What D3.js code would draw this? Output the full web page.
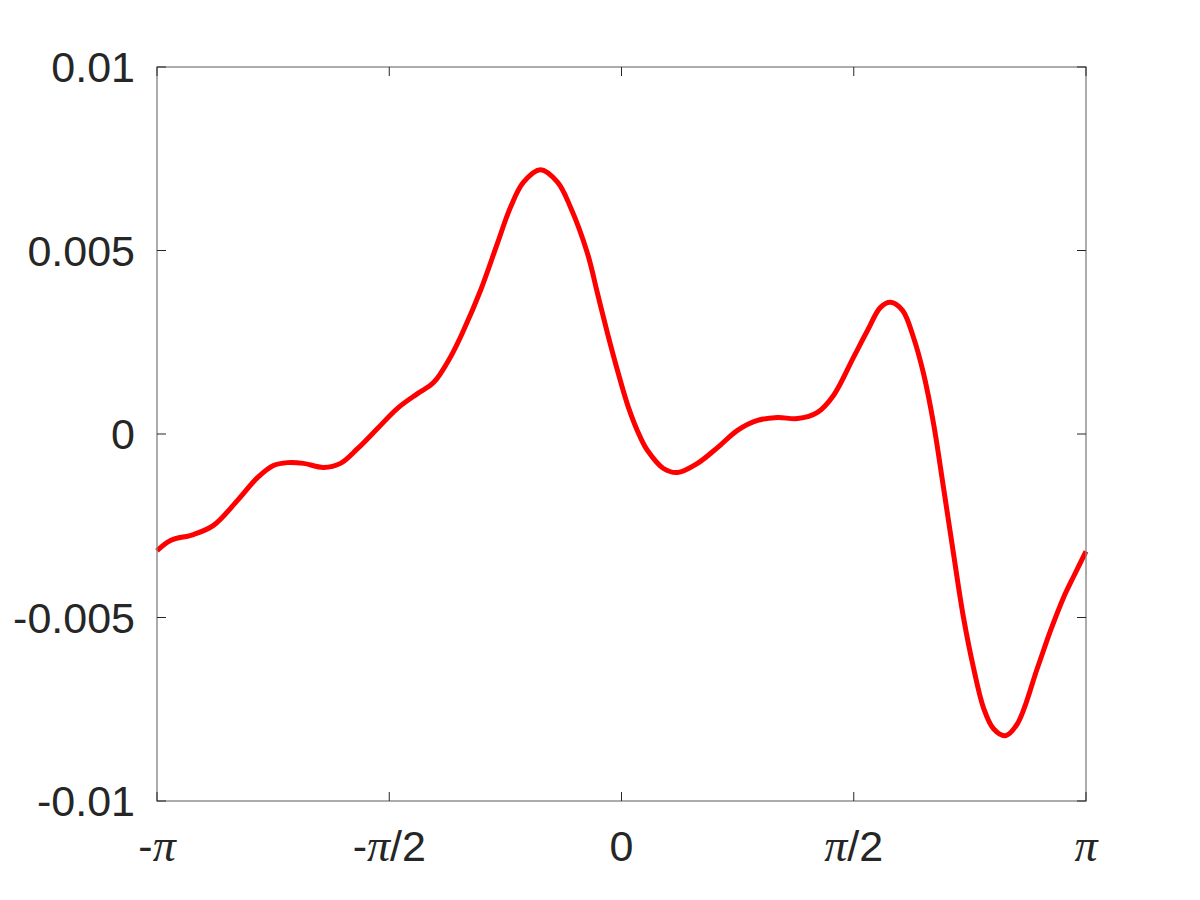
<!DOCTYPE html>
<html>
<head>
<meta charset="utf-8">
<script src="https://cdn.jsdelivr.net/npm/d3@7"></script>
<style>
  body { margin: 0; background: #fff; }
  text { font-family: "Liberation Sans", Arial, sans-serif; }
</style>
</head>
<body>
<svg id="chart"></svg>
<script>
// curve samples (x in radians)
const xs = [-Math.PI, -3.0503, -2.8947, -2.7595, -2.5971, -2.4619, -2.3537, -2.2590, -2.1508, -2.0155,
  -1.9005, -1.7855, -1.6503, -1.5150, -1.3797, -1.2715, -1.1565, -1.0686, -0.9536, -0.8387,
  -0.7507, -0.6628, -0.5478, -0.4328, -0.3449, -0.2300, -0.1623, -0.0947, -0.0271, 0.0473,
  0.1285, 0.1759, 0.2841, 0.3788, 0.5140, 0.6493, 0.7845, 0.9198, 1.0551, 1.1904, 1.3256,
  1.4338, 1.5691, 1.6638, 1.7517, 1.8194, 1.9005, 1.9749, 2.0425, 2.1102, 2.1778,
  2.2454, 2.3130, 2.3807, 2.4483, 2.5160, 2.5972, 2.6783, 2.8136, 2.9015, 2.9894,
  3.0570, Math.PI];
const ys = [-0.00318, -0.00290, -0.00274, -0.00249, -0.00181, -0.00119, -0.00086, -0.00078, -0.00080, -0.00091,
  -0.00080, -0.00040, 0.00015, 0.00070, 0.00110, 0.00140, 0.00210, 0.00282, 0.00391, 0.00520,
  0.00618, 0.00686, 0.00720, 0.00686, 0.00618, 0.00492, 0.00383, 0.00274, 0.00173, 0.00072,
  -0.00010, -0.00045, -0.00094, -0.00105, -0.00080, -0.00037, 0.00010, 0.00037, 0.00045, 0.00042, 0.00059,
  0.00105, 0.00209, 0.00282, 0.00345, 0.00359, 0.00337, 0.00263, 0.00165, 0.00029, -0.00146,
  -0.00326, -0.00500, -0.00637, -0.00746, -0.00803, -0.00822, -0.00789, -0.00637, -0.00536, -0.00446,
  -0.00389, -0.00320];

const xTicks = [-Math.PI, -Math.PI / 2, 0, Math.PI / 2, Math.PI];
const xTickLabels = ["-π", "-π/2", "0", "π/2", "π"];
const yTicks = [-0.01, -0.005, 0, 0.005, 0.01];
const yTickLabels = ["-0.01", "-0.005", "0", "0.005", "0.01"];

const W = 1200, H = 900;
const margin = { top: 67, right: 114, bottom: 99, left: 157 };
const width = W - margin.left - margin.right;
const height = H - margin.top - margin.bottom;

const svg = d3.select("#chart").attr("width", W).attr("height", H);
const g = svg.append("g").attr("transform", `translate(${margin.left},${margin.top})`);

const x = d3.scaleLinear().domain([-Math.PI, Math.PI]).range([0, width]);
const y = d3.scaleLinear().domain([-0.01, 0.01]).range([height, 0]);

const axisColor = "#262626";
const boxColor = "#808080";

// the line
const pts = xs.map((v, i) => ({ x: v, y: ys[i] }));
const line = d3.line()
  .x(d => x(d.x))
  .y(d => y(d.y))
  .curve(d3.curveCatmullRom.alpha(0.5));

g.append("defs").append("clipPath").attr("id", "clip")
  .append("rect").attr("x", -3).attr("y", 0).attr("width", width + 6).attr("height", height);

g.append("path")
  .datum(pts)
  .attr("clip-path", "url(#clip)")
  .attr("fill", "none")
  .attr("stroke", "#ff0000")
  .attr("stroke-width", 5)
  .attr("stroke-linejoin", "round")
  .attr("d", line);

// box
g.append("rect")
  .attr("x", 0).attr("y", 0)
  .attr("width", width).attr("height", height)
  .attr("fill", "none")
  .attr("stroke", boxColor)
  .attr("stroke-width", 1.3);

// ticks inward, mirrored on top/right like MATLAB
const tickLen = 9;
xTicks.forEach(t => {
  g.append("line").attr("x1", x(t)).attr("x2", x(t)).attr("y1", height).attr("y2", height - tickLen)
    .attr("stroke", axisColor).attr("stroke-width", 1);
  g.append("line").attr("x1", x(t)).attr("x2", x(t)).attr("y1", 0).attr("y2", tickLen)
    .attr("stroke", axisColor).attr("stroke-width", 1);
});
yTicks.forEach(t => {
  g.append("line").attr("x1", 0).attr("x2", tickLen).attr("y1", y(t)).attr("y2", y(t))
    .attr("stroke", axisColor).attr("stroke-width", 1);
  g.append("line").attr("x1", width).attr("x2", width - tickLen).attr("y1", y(t)).attr("y2", y(t))
    .attr("stroke", axisColor).attr("stroke-width", 1);
});

// x labels, pi in italic serif like the TeX interpreter
const xl = g.selectAll(".xlab")
  .data(xTicks)
  .enter()
  .append("text")
  .attr("class", "xlab")
  .attr("x", d => x(d))
  .attr("y", height + 60)
  .attr("text-anchor", "middle")
  .attr("font-size", 43)
  .attr("fill", axisColor);

xl.each(function (d, i) {
  const t = d3.select(this);
  xTickLabels[i].split(/(π)/).filter(s => s !== "").forEach(part => {
    const sp = t.append("tspan").text(part);
    if (part === "π") {
      sp.attr("font-family", "'Liberation Serif', 'DejaVu Serif', serif")
        .attr("font-style", "italic")
        .attr("font-size", 46);
    }
  });
});

g.selectAll(".ylab")
  .data(yTicks)
  .enter()
  .append("text")
  .attr("class", "ylab")
  .attr("x", -22)
  .attr("y", d => y(d))
  .attr("dy", "0.35em")
  .attr("text-anchor", "end")
  .attr("font-size", 43)
  .attr("fill", axisColor)
  .text((d, i) => yTickLabels[i]);
</script>
</body>
</html>
